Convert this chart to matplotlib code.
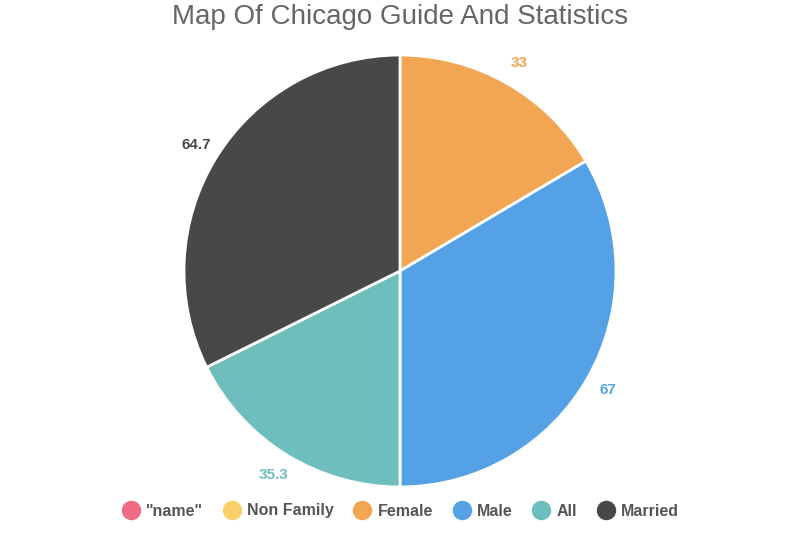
import matplotlib
matplotlib.use("Agg")
import matplotlib.pyplot as plt
from matplotlib.lines import Line2D
import numpy as np

plt.rcParams["font.family"] = "Liberation Sans"

categories = ['"name"', "Non Family", "Female", "Male", "All", "Married"]
values = [0, 0, 33, 67, 35.3, 64.7]
colors = ["#ef6b84", "#f8d067", "#f2a553", "#55a1e5", "#6dbebd", "#47484a"]
labels = ["", "", "33", "67", "35.3", "64.7"]

fig = plt.figure(figsize=(8, 5.33), dpi=100)
cx, cy, r = 400, 271, 216
ax = fig.add_axes([(cx - r) / 800, (533 - cy - r) / 533, 2 * r / 800, 2 * r / 533])

nz = [i for i, v in enumerate(values) if v > 0]
ax.pie([values[i] for i in nz], colors=[colors[i] for i in nz], startangle=90,
       counterclock=False, radius=1, frame=False,
       wedgeprops=dict(edgecolor="white", linewidth=2))
ax.set_xlim(-1, 1); ax.set_ylim(-1, 1); ax.axis("off")

total = sum(values)
cum = 0
for v, c, l in zip(values, colors, labels):
    if v > 0:
        mid = (cum + v / 2) / total * 2 * np.pi
        ax.text(1.11 * np.sin(mid), 1.11 * np.cos(mid), l, color=c,
                fontsize=11, fontweight="bold", ha="center", va="center")
    cum += v

fig.text(0.5, 1 - 17 / 533, "Map Of Chicago Guide And Statistics", ha="center",
         va="center", fontsize=20, color="#666666")

handles = [Line2D([], [], marker="o", linestyle="", markersize=13,
                  markerfacecolor=c, markeredgecolor=c) for c in colors]
fig.legend(handles, categories, loc="center", bbox_to_anchor=(0.5, 1 - 511 / 533),
           ncol=6, frameon=False, handletextpad=0.35, columnspacing=1.2,
           handlelength=1.2, prop=dict(size=11.5, weight="bold"), labelcolor="#555555")

fig.savefig("out.png", dpi=100)
